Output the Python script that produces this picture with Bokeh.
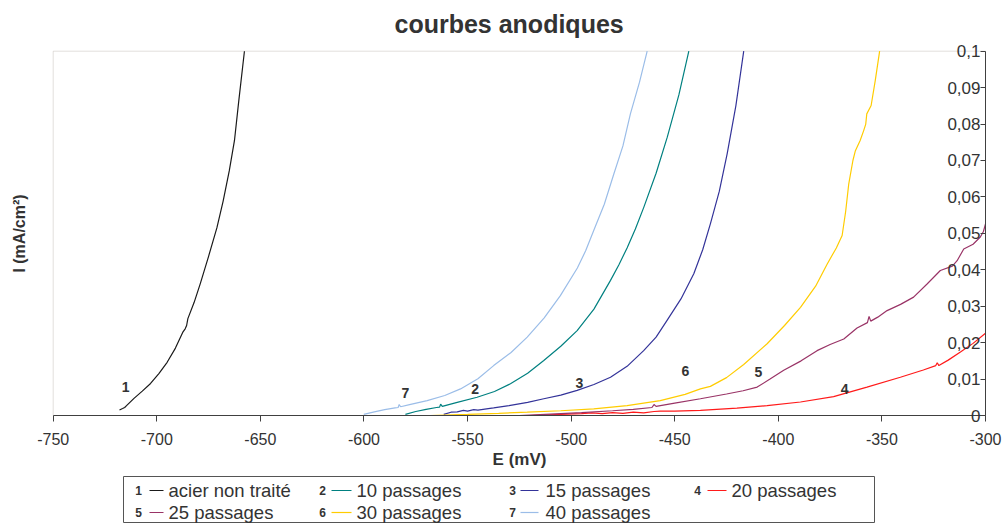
from bokeh.plotting import figure
from bokeh.models import (Range1d, LinearAxis, FixedTicker, Spacer, BoxAnnotation)
from bokeh.layouts import column, row
from bokeh.core.properties import value
from bokeh.embed import file_html
from bokeh.resources import INLINE

# ---------------- data ----------------
x_ticks = [-750, -700, -650, -600, -550, -500, -450, -400, -350, -300]
y_ticks = [0, 0.01, 0.02, 0.03, 0.04, 0.05, 0.06, 0.07, 0.08, 0.09, 0.1]
y_tick_labels = ["0", "0,01", "0,02", "0,03", "0,04", "0,05", "0,06", "0,07", "0,08", "0,09", "0,1"]

series_numbers = ["1", "2", "3", "4", "5", "6", "7"]
series_names = ["acier non traité", "10 passages", "15 passages", "20 passages",
                "25 passages", "30 passages", "40 passages"]
series_colors = ["#1a1a1a", "#008080", "#333399", "#ff1a1a", "#993366", "#ffcc00", "#9bbde8"]

E1 = [-718, -716.5, -715.5, -714.6, -711, -707, -703, -699, -695, -691, -687.5, -686.3, -685.6,
      -685, -682, -679, -675, -671, -668, -665, -662.5, -660.4, -657.7]
I1 = [0.0015, 0.0019, 0.0022, 0.0027, 0.0047, 0.0067, 0.0088, 0.0115, 0.0146, 0.0185, 0.0228,
      0.0238, 0.0247, 0.0266, 0.0310, 0.0362, 0.0437, 0.0515, 0.0588, 0.0672, 0.0755, 0.0865, 0.100]

E2 = [-580, -575, -570, -565, -563.5, -563, -562.2, -555, -545.4, -537, -529.3, -521, -513.2,
      -505, -497.1, -489, -481, -477, -473, -469, -464.9, -459, -453.6, -448, -443.2]
I2 = [0.0003, 0.0011, 0.0017, 0.0022, 0.0023, 0.0031, 0.0025, 0.0036, 0.0050, 0.0066, 0.0087,
      0.0116, 0.0151, 0.0190, 0.0233, 0.0292, 0.0371, 0.0413, 0.0460, 0.0512, 0.0572, 0.0665,
      0.0764, 0.0880, 0.100]

E3 = [-561.5, -558, -555, -552, -550, -547, -545, -540, -537.4, -530, -521, -513.2, -505, -497.1,
      -489, -481, -473, -465, -459, -453.7, -447, -440.8, -436.5, -432.8, -428.5, -424.7, -420.5, -416.7]
I3 = [0.0003, 0.0009, 0.0010, 0.0014, 0.0012, 0.0016, 0.0015, 0.0019, 0.0021, 0.0027, 0.0036,
      0.0046, 0.0056, 0.0069, 0.0085, 0.0105, 0.0135, 0.0178, 0.0215, 0.0261, 0.0320, 0.0389,
      0.0455, 0.0526, 0.0615, 0.0718, 0.0850, 0.100]

E4 = [-520, -505, -495, -490, -485, -480, -475, -470, -465, -460, -457, -450, -437.6, -420,
      -405.4, -389.3, -373.3, -357.2, -341.1, -330, -324, -323.3, -322.5, -318, -312.1, -306, -300]
I4 = [0.0, 0.0003, 0.0005, 0.0007, 0.0005, 0.0008, 0.0006, 0.0009, 0.0007, 0.0011, 0.0012,
      0.0012, 0.0014, 0.0020, 0.0027, 0.0037, 0.0052, 0.0078, 0.0105, 0.0125, 0.0137, 0.0145,
      0.0137, 0.0152, 0.0174, 0.0198, 0.0226]

E5 = [-525, -510, -495, -480, -470, -461, -460, -459, -450, -437.6, -425, -417, -410.2, -404,
      -397.4, -389, -381.3, -375, -368.4, -362, -357, -356.2, -355.4, -352, -347.5, -341, -334.7,
      -328.2, -321.8, -316, -313.7, -310.5, -306, -302.5, -301, -300]
I5 = [0.0, 0.0004, 0.0008, 0.0013, 0.0017, 0.0022, 0.0030, 0.0025, 0.0034, 0.0046, 0.0059,
      0.0068, 0.0078, 0.0100, 0.0124, 0.0150, 0.0178, 0.0195, 0.0210, 0.0240, 0.0255, 0.0272,
      0.0259, 0.0270, 0.0288, 0.0305, 0.0325, 0.0361, 0.0398, 0.0410, 0.0425, 0.0457, 0.0470,
      0.0490, 0.0505, 0.0526]

E6 = [-568, -550, -535, -521.2, -505, -489.1, -473, -457, -445, -437.6, -432.8, -425, -416.7,
      -405.4, -397, -389.3, -382, -376.4, -372, -369.2, -367.5, -366, -364, -362.8, -360.5, -358.8,
      -357.8, -357.3, -355.2, -353.2, -351.1]
I6 = [0.0, 0.0003, 0.0006, 0.0009, 0.0013, 0.0018, 0.0027, 0.0041, 0.0058, 0.0073, 0.0080,
      0.0104, 0.0140, 0.0197, 0.0247, 0.0297, 0.0355, 0.0416, 0.0460, 0.0494, 0.0560, 0.0636,
      0.0700, 0.0727, 0.0755, 0.0782, 0.0800, 0.0828, 0.0851, 0.0920, 0.100]

E7 = [-600.1, -595, -590, -585, -583.5, -583, -582.3, -578, -569.5, -561, -553.4, -545, -537.4,
      -529, -521.2, -513, -505.2, -497, -493, -489.1, -484, -479.4, -475, -471.4, -467, -463.3]
I7 = [0.0003, 0.0010, 0.0016, 0.0021, 0.0022, 0.0030, 0.0024, 0.0030, 0.0041, 0.0055, 0.0073,
      0.0101, 0.0137, 0.0173, 0.0215, 0.0268, 0.0329, 0.0405, 0.0452, 0.0508, 0.0580, 0.0663,
      0.0740, 0.0828, 0.0915, 0.100]

curves_E = [E1, E2, E3, E4, E5, E6, E7]
curves_I = [I1, I2, I3, I4, I5, I6, I7]

# curve number annotations (data positions)
note_text = ["1", "7", "2", "3", "6", "5", "4"]
note_E = [-715, -580, -546.3, -496, -444.8, -409.6, -368]
note_I = [0.0077, 0.0061, 0.0073, 0.0089, 0.0121, 0.0119, 0.0073]

# ---------------- layout constants (pixels) ----------------
FONT = "Liberation Sans"
TXT = "#333333"
AX = "#404040"
W, H = 1002, 476
TOP = 42                      # frame top in pixels (frame spans full width)
PLOT_LEFT_PX = 52.7           # pixel column of E = -750
PLOT_TOP_PX = 50.7            # pixel row of I = 0.1
PLOT_W_PX, PLOT_H_PX = 932.3, 364.3   # size of the -750..-300 x 0..0.1 box

x_lo, x_hi = x_ticks[0], x_ticks[-1]
y_lo, y_hi = y_ticks[0], y_ticks[-1]
mv_per_px = (x_hi - x_lo) / PLOT_W_PX
i_per_px = (y_hi - y_lo) / PLOT_H_PX
frame_h = H - TOP
x_start = x_lo - PLOT_LEFT_PX * mv_per_px
x_range = Range1d(x_start, x_start + W * mv_per_px)
y_top = y_hi + (PLOT_TOP_PX - TOP) * i_per_px
y_range = Range1d(y_top - frame_h * i_per_px, y_top)

p = figure(width=W, height=H, x_range=x_range, y_range=y_range,
           output_backend="svg", toolbar_location=None, y_axis_location=None,
           min_border_left=0, min_border_right=0, min_border_top=TOP, min_border_bottom=0,
           title="courbes anodiques")
p.grid.visible = False
p.outline_line_color = None
p.background_fill_color = "white"
p.border_fill_color = "white"

p.title.align = "left"
p.title.text_font = FONT
p.title.text_font_size = "25px"
p.title.text_font_style = "bold"
p.title.text_color = TXT
p.title.offset = 394
p.title.standoff = 9

# plot-area border (top / left visible, light brownish grey)
p.add_layout(BoxAnnotation(left=x_lo, right=x_hi, bottom=y_lo, top=y_hi, fill_color=None,
                           fill_alpha=0, line_color="#a0968f", line_width=1, level="underlay"))

xa = p.xaxis[0]
xa.fixed_location = y_lo
xa.bounds = (x_lo, x_hi)
xa.ticker = FixedTicker(ticks=x_ticks)
xa.major_label_overrides = {t: str(t) for t in x_ticks}
xa.major_label_text_font = FONT
xa.major_label_text_font_size = "16px"
xa.major_label_text_color = TXT
xa.major_label_standoff = 11
xa.major_tick_out = 6
xa.major_tick_in = 0
xa.minor_tick_line_color = None
xa.axis_line_color = AX
xa.major_tick_line_color = AX
xa.axis_label = "E (mV)"
xa.axis_label_text_font = FONT
xa.axis_label_text_font_size = "17px"
xa.axis_label_text_font_style = "bold"
xa.axis_label_text_color = TXT
xa.axis_label_standoff = 2

# y axis drawn at E = -300 with labels on its left side (inside the plot)
ya = LinearAxis(ticker=FixedTicker(ticks=y_ticks), fixed_location=x_hi, bounds=(y_lo, y_hi),
                major_label_overrides={t: s for t, s in zip(y_ticks, y_tick_labels)},
                major_tick_out=5, major_tick_in=0, major_label_standoff=0,
                major_label_text_font=FONT, major_label_text_font_size="17px",
                major_label_text_color=TXT,
                axis_line_color=AX, major_tick_line_color=AX, minor_tick_line_color=None)
p.add_layout(ya, "left")

# vertical axis title, left of the plot area
yl = LinearAxis(ticker=FixedTicker(ticks=[]), fixed_location=x_lo, bounds=(y_lo, y_hi),
                axis_line_color=None,
                major_tick_line_color=None, minor_tick_line_color=None, major_tick_out=0,
                major_label_standoff=0, axis_label="I (mA/cm²)", axis_label_text_font=FONT,
                axis_label_text_font_size="16px", axis_label_text_font_style="bold",
                axis_label_text_color=TXT, axis_label_standoff=26)
p.add_layout(yl, "left")

for E, I, c in zip(curves_E, curves_I, series_colors):
    p.line(E, I, line_color=c, line_width=1.2)

p.text(note_E, note_I, text=note_text, text_font=value(FONT), text_font_size="14px",
       text_font_style="bold", text_color=TXT, text_align="center", text_baseline="middle")

# ---------------- legend box ----------------
LW, LH = 752, 523 - H
leg = figure(width=LW, height=LH, x_range=Range1d(0, LW), y_range=Range1d(LH, 0),
             output_backend="svg", toolbar_location=None, min_border=0,
             x_axis_location=None, y_axis_location=None)
leg.grid.visible = False
leg.outline_line_color = "#555555"
leg.outline_line_width = 1

col_num_x = [15, 199, 389, 574]
col_line_x0 = [26, 208, 397, 584]
col_line_x1 = [40, 228, 415, 603]
col_text_x = [45, 233, 422, 608]
row_y = [14, 36]

num_x, num_y, lx0, lx1, ly, tx, ty = [], [], [], [], [], [], []
for k in range(len(series_names)):
    r, c = divmod(k, 4)
    num_x.append(col_num_x[c]); num_y.append(row_y[r])
    lx0.append(col_line_x0[c]); lx1.append(col_line_x1[c]); ly.append(row_y[r])
    tx.append(col_text_x[c]); ty.append(row_y[r])

leg.text(num_x, num_y, text=series_numbers, text_font=value(FONT), text_font_size="12px",
         text_font_style="bold", text_color=TXT, text_align="center", text_baseline="middle")
leg.segment(lx0, ly, lx1, ly, line_color=series_colors, line_width=1.2)
leg.text(tx, ty, text=series_names, text_font=value(FONT), text_font_size="18.5px",
         text_color=TXT, text_align="left", text_baseline="middle")

layout = column(p, row(Spacer(width=123, height=LH), leg))

open("out.html", "w").write(file_html(layout, INLINE))
